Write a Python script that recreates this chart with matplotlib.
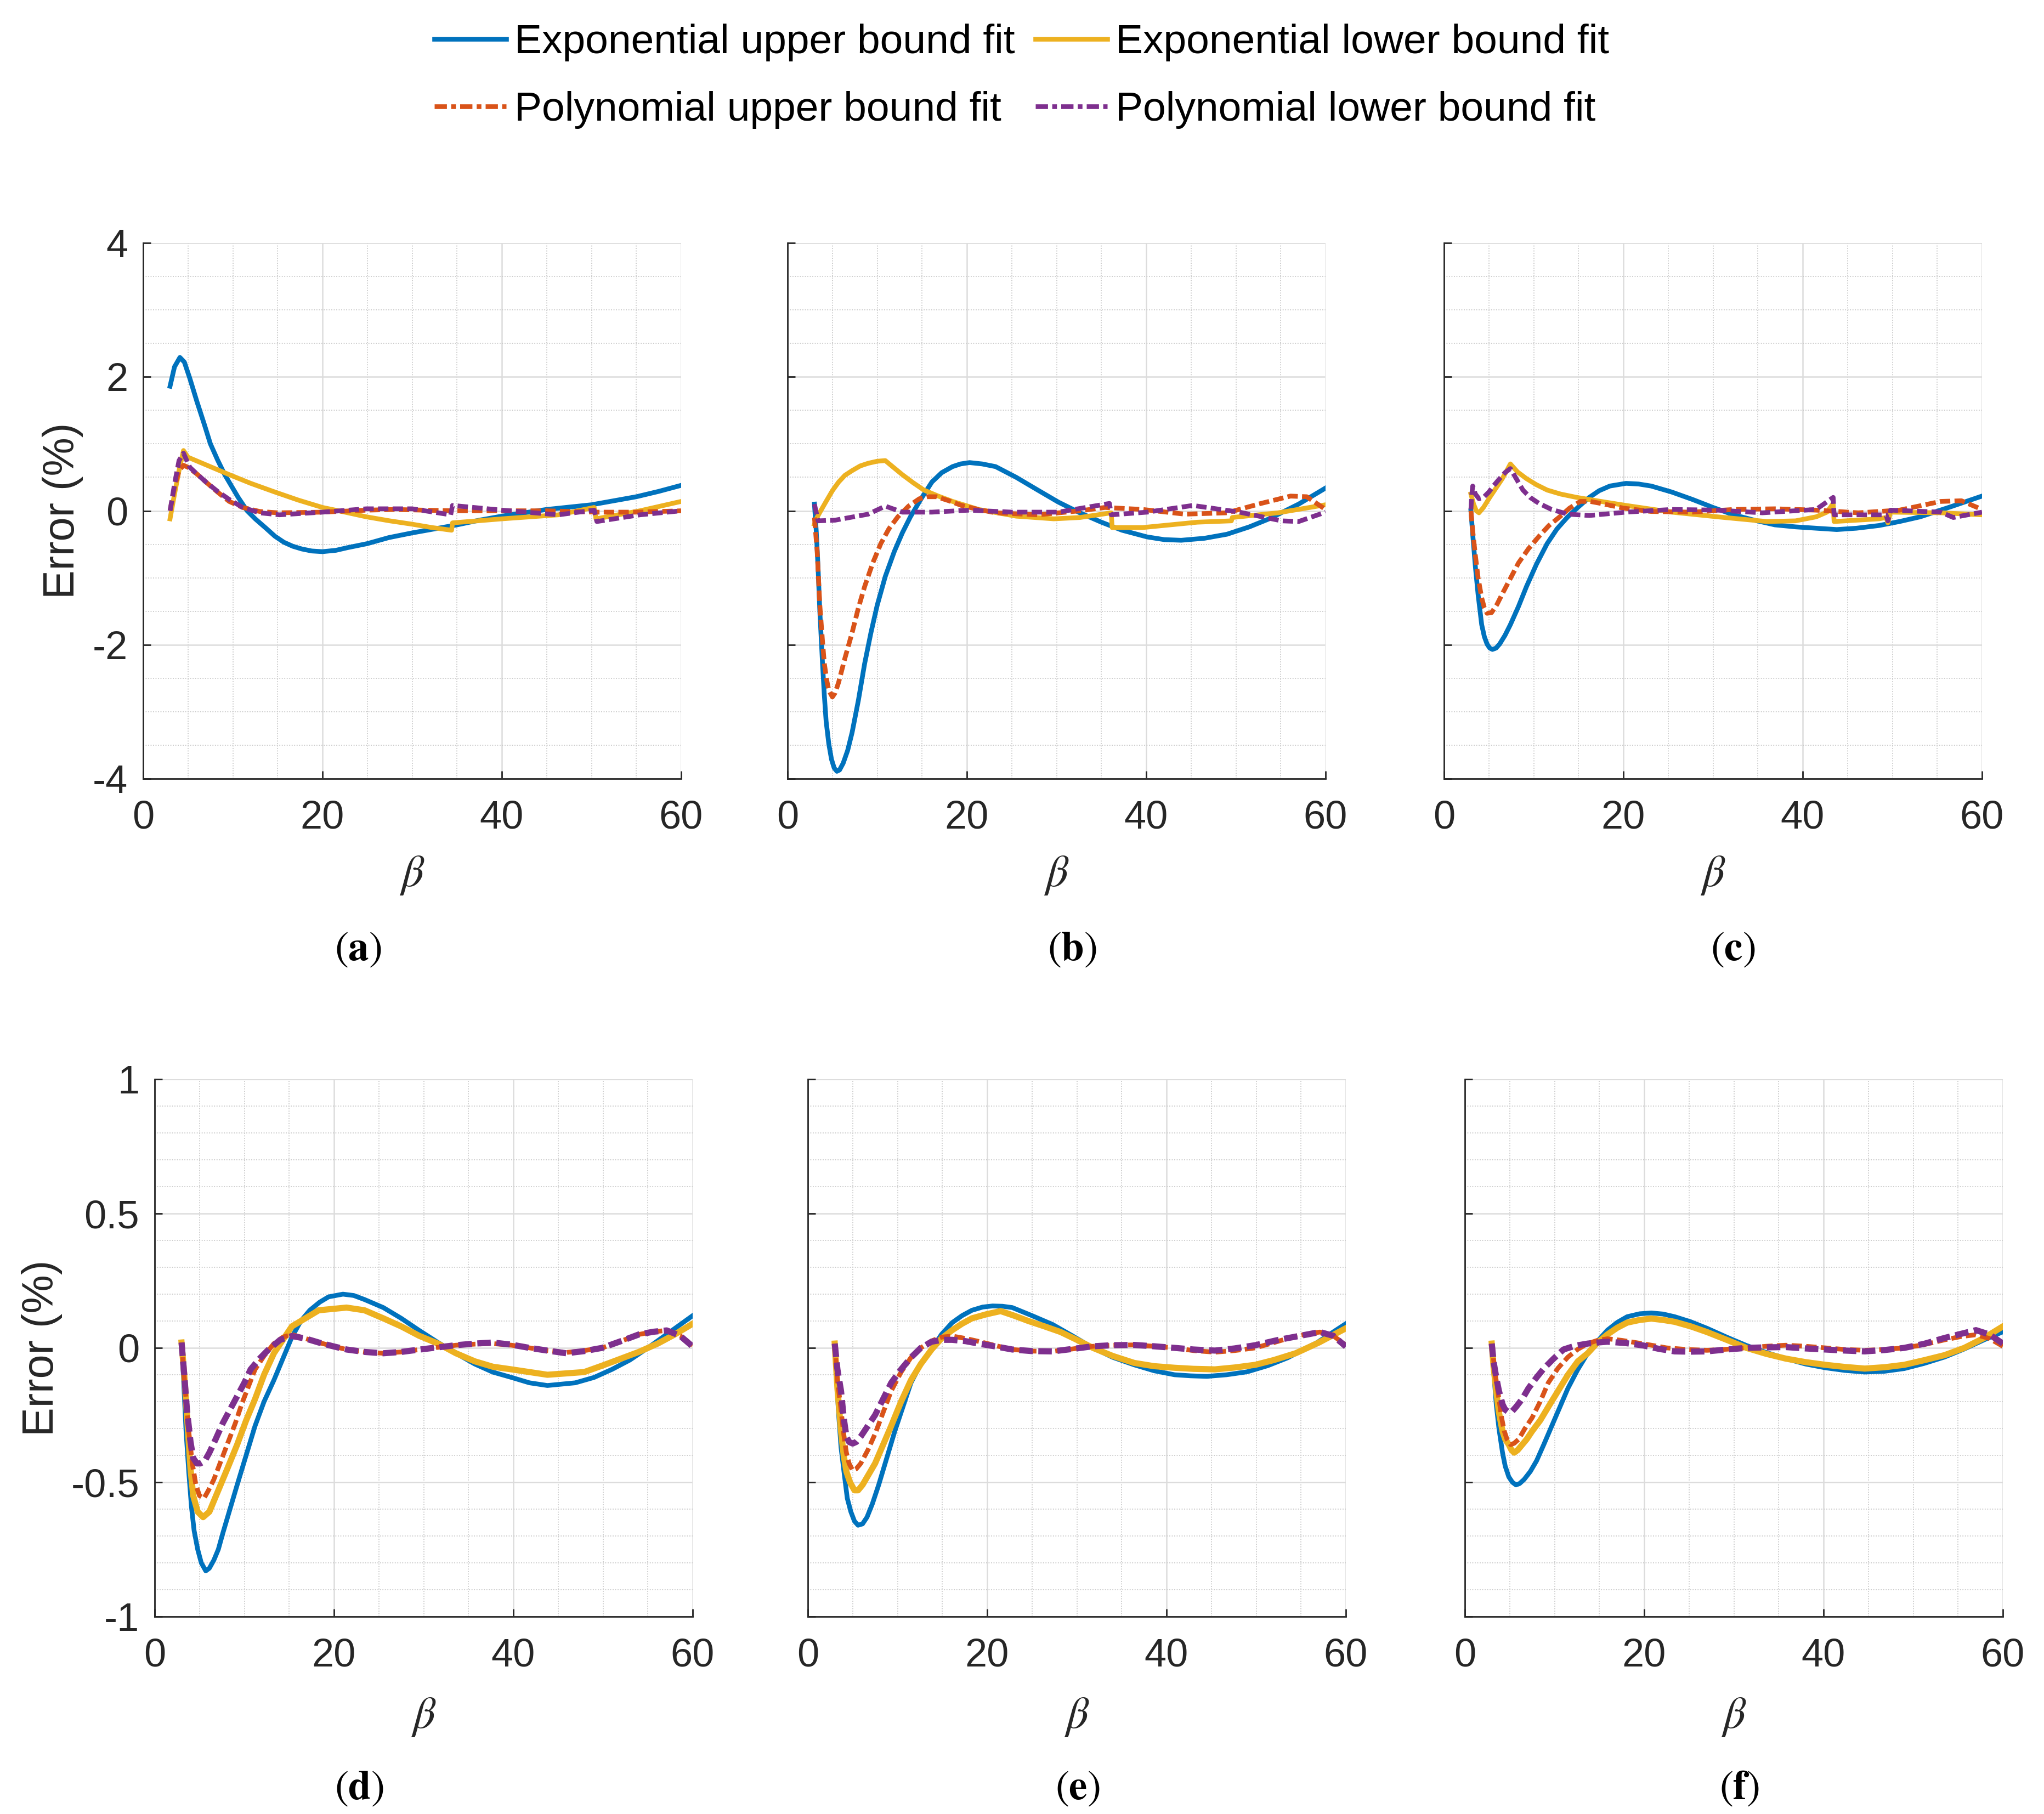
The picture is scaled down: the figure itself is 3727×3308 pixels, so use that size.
import matplotlib
matplotlib.use('Agg')
import matplotlib.pyplot as plt
from matplotlib.ticker import MultipleLocator
from matplotlib.lines import Line2D

plt.rcParams['font.family'] = ['Liberation Sans', 'DejaVu Sans']
plt.rcParams['mathtext.fontset'] = 'stix'
plt.rcParams['axes.unicode_minus'] = False

# ---------------- data ----------------
legend_labels = ['Exponential upper bound fit', 'Exponential lower bound fit',
                 'Polynomial upper bound fit', 'Polynomial lower bound fit']
panel_labels = ['a', 'b', 'c', 'd', 'e', 'f']

# panel (a)
a_eu_x = [3, 3.5, 4.1, 4.6, 5.2, 6.0, 6.8, 7.5, 8.3, 9.1, 10.6, 11.6, 12.5, 13.7, 14.7, 15.7, 16.7, 17.7, 18.8, 20, 21.5, 22.8, 25, 27.4, 30, 32.5, 35, 37.5, 40, 42.5, 45, 47.5, 50, 52.5, 55, 57.5, 60]
a_eu_y = [1.86, 2.15, 2.29, 2.22, 1.98, 1.63, 1.3, 1.0, 0.76, 0.54, 0.2, 0.0, -0.12, -0.26, -0.38, -0.47, -0.53, -0.57, -0.6, -0.61, -0.59, -0.55, -0.49, -0.4, -0.33, -0.27, -0.21, -0.14, -0.08, -0.03, 0.02, 0.055, 0.09, 0.15, 0.21, 0.29, 0.38]
a_el_x = [3, 3.5, 4.0, 4.5, 5.0, 7.3, 9.6, 12, 14.7, 17.3, 20, 22.5, 24.9, 27.5, 30, 32.2, 34.4, 34.5, 40, 46.3, 50.3, 50.5, 55.4, 60]
a_el_y = [-0.12, 0.25, 0.6, 0.9, 0.8, 0.67, 0.54, 0.41, 0.28, 0.16, 0.05, -0.02, -0.09, -0.15, -0.2, -0.25, -0.29, -0.18, -0.12, -0.06, 0.05, -0.12, 0.0, 0.14]
a_pu_x = [3, 3.5, 4.0, 4.5, 5.0, 6.0, 7.0, 8.3, 9.6, 11.1, 13, 15, 20, 25, 28, 34.5, 40, 45, 50.5, 55, 60]
a_pu_y = [0.0, 0.35, 0.6, 0.68, 0.65, 0.55, 0.43, 0.28, 0.14, 0.05, -0.01, -0.03, -0.02, 0.01, 0.02, 0.0, 0.0, 0.0, -0.02, -0.02, 0.0]
a_pl_x = [3, 3.5, 4.0, 4.5, 5.2, 6.0, 7.0, 8.3, 9.6, 11.1, 13, 15.2, 20, 24.9, 30, 34.3, 34.5, 40, 46.3, 50.3, 50.6, 55.4, 60]
a_pl_y = [0.0, 0.4, 0.75, 0.86, 0.65, 0.55, 0.43, 0.29, 0.17, 0.05, -0.03, -0.06, -0.02, 0.03, 0.03, -0.06, 0.08, 0.01, -0.06, 0.01, -0.16, -0.06, 0.0]

# panel (b)
b_eu_x = [3, 3.2, 3.4, 3.6, 3.9, 4.1, 4.3, 4.6, 4.9, 5.2, 5.5, 5.8, 6.2, 6.7, 7.2, 7.9, 8.6, 9.3, 10, 10.9, 11.9, 12.8, 13.7, 14.9, 16.1, 17.2, 18.4, 19.3, 20.3, 21.7, 23.2, 25.5, 27.9, 30.2, 32.6, 35, 37.3, 40.1, 42, 43.9, 46.5, 49, 51.5, 53.7, 57, 60]
b_eu_y = [0.1, -0.3, -0.84, -1.5, -2.28, -2.75, -3.14, -3.48, -3.71, -3.84, -3.89, -3.87, -3.77, -3.58, -3.31, -2.83, -2.28, -1.82, -1.41, -0.98, -0.61, -0.33, -0.09, 0.18, 0.43, 0.57, 0.66, 0.7, 0.72, 0.7, 0.66, 0.5, 0.31, 0.13, -0.03, -0.17, -0.29, -0.39, -0.43, -0.44, -0.41, -0.35, -0.24, -0.12, 0.1, 0.34]
b_el_x = [3, 3.2, 3.7, 4.3, 5.0, 5.7, 6.4, 7.2, 8.1, 9, 10, 10.9, 11.8, 12.8, 14, 15.2, 16.8, 18.4, 21.3, 25.5, 29.7, 32.6, 36.1, 36.2, 39.6, 45.7, 49.5, 49.6, 54.7, 60]
b_el_y = [-0.2, -0.12, 0.0, 0.14, 0.3, 0.43, 0.53, 0.6, 0.67, 0.71, 0.74, 0.75, 0.65, 0.54, 0.42, 0.31, 0.22, 0.14, 0.02, -0.08, -0.12, -0.1, -0.03, -0.25, -0.25, -0.17, -0.15, -0.1, -0.03, 0.09]
b_pu_x = [3, 3.3, 3.6, 3.9, 4.1, 4.4, 4.6, 5.0, 5.3, 5.7, 6.4, 7.2, 7.9, 8.6, 9.5, 10.4, 11.3, 12.3, 13.5, 14.7, 15.6, 16.6, 18, 19.4, 21.3, 23.2, 27.9, 32.6, 35.4, 39.6, 44.3, 49, 52.8, 56.1, 57.9, 60]
b_pu_y = [-0.1, -0.6, -1.41, -1.95, -2.28, -2.55, -2.68, -2.78, -2.72, -2.56, -2.2, -1.82, -1.45, -1.13, -0.78, -0.49, -0.27, -0.09, 0.07, 0.18, 0.21, 0.21, 0.15, 0.08, 0.02, -0.03, -0.06, 0.0, 0.05, 0.02, -0.05, -0.03, 0.11, 0.22, 0.21, 0.02]
b_pl_x = [3, 3.4, 5.3, 9, 10.9, 12.8, 16.1, 20.3, 25, 30.2, 35.9, 36.1, 40.1, 45.2, 50.4, 55.1, 57, 60]
b_pl_y = [0.1, -0.15, -0.14, -0.05, 0.07, -0.02, -0.02, 0.01, -0.02, -0.02, 0.11, -0.06, -0.02, 0.08, -0.02, -0.15, -0.16, -0.02]

# panel (c)
c_eu_x = [3, 3.2, 3.5, 3.8, 4.2, 4.5, 4.8, 5.1, 5.4, 5.8, 6.2, 6.8, 7.4, 8.3, 9.2, 10.3, 11.5, 12.6, 13.8, 15, 16.2, 17.3, 18.5, 20.3, 21.7, 23.1, 25.4, 27.7, 30, 32.3, 34.6, 36.9, 39.2, 41.5, 43.8, 46, 48.5, 50.8, 53.1, 56.5, 60]
c_eu_y = [0.0, -0.35, -0.84, -1.25, -1.7, -1.88, -1.99, -2.05, -2.07, -2.05, -1.99, -1.86, -1.7, -1.43, -1.13, -0.8, -0.49, -0.27, -0.09, 0.06, 0.2, 0.3, 0.37, 0.41, 0.4, 0.37, 0.28, 0.17, 0.05, -0.06, -0.14, -0.21, -0.24, -0.26, -0.28, -0.26, -0.22, -0.16, -0.09, 0.06, 0.22]
c_el_x = [3, 3.3, 3.6, 3.9, 4.4, 5.1, 5.8, 6.5, 7.0, 7.4, 8.2, 9.2, 10.3, 11.5, 13, 14.8, 17.5, 20.3, 25.4, 30.5, 36, 39.2, 41.5, 42.7, 43.4, 43.5, 48.5, 49.3, 49.5, 49.8, 55.4, 60]
c_el_y = [0.25, 0.1, 0.0, -0.03, 0.05, 0.2, 0.34, 0.48, 0.6, 0.7, 0.58, 0.48, 0.39, 0.31, 0.25, 0.2, 0.14, 0.08, -0.02, -0.09, -0.16, -0.15, -0.09, -0.02, 0.11, -0.16, -0.12, -0.1, -0.18, -0.02, -0.03, -0.06]
c_pu_x = [3, 3.2, 3.5, 3.8, 4.2, 4.5, 4.8, 5.3, 5.9, 6.5, 7.4, 8.3, 9.4, 10.6, 11.7, 12.9, 14, 15.2, 16.3, 17.5, 20, 23.1, 27.7, 32.3, 36.9, 41.5, 46.2, 50.8, 55.4, 57.7, 60]
c_pu_y = [0.0, -0.3, -0.67, -1.0, -1.3, -1.45, -1.53, -1.52, -1.4, -1.24, -1.01, -0.78, -0.57, -0.38, -0.22, -0.09, 0.04, 0.14, 0.14, 0.11, 0.04, -0.01, -0.02, 0.02, 0.03, 0.01, -0.03, 0.01, 0.14, 0.15, 0.02]
c_pl_x = [3, 3.1, 3.2, 3.5, 3.9, 4.4, 5.0, 5.5, 6.2, 6.8, 7.4, 8.1, 8.8, 9.6, 10.6, 12, 13.8, 16.2, 20.3, 25.4, 30.5, 35.5, 41.5, 43.4, 43.5, 48.5, 49.3, 49.5, 49.8, 55.4, 56.8, 60]
c_pl_y = [0.02, 0.25, 0.37, 0.25, 0.18, 0.2, 0.28, 0.37, 0.48, 0.57, 0.63, 0.47, 0.31, 0.2, 0.11, 0.02, -0.05, -0.07, -0.02, 0.02, 0.01, -0.03, 0.02, 0.2, -0.06, -0.06, -0.06, -0.15, 0.01, -0.02, -0.1, -0.02]

# panel (d)
d_eu_x = [3, 3.2, 3.5, 3.8, 4.1, 4.4, 4.8, 5.2, 5.7, 6.1, 6.6, 7.1, 7.6, 8.4, 9.2, 10.2, 11.2, 12.2, 13.3, 14.3, 15.3, 16.3, 17.3, 18.4, 19.4, 21, 22.2, 23.4, 25.5, 27.5, 29.5, 31.6, 33.6, 35.7, 37.7, 39.8, 41.8, 43.8, 46.9, 49, 51, 53, 55, 57.5, 60]
d_eu_y = [0.02, -0.1, -0.31, -0.46, -0.59, -0.68, -0.75, -0.8, -0.83, -0.82, -0.79, -0.75, -0.69, -0.6, -0.51, -0.4, -0.29, -0.2, -0.12, -0.04, 0.04, 0.1, 0.14, 0.17, 0.19, 0.2, 0.195, 0.18, 0.15, 0.11, 0.065, 0.02, -0.02, -0.06, -0.09, -0.11, -0.13, -0.14, -0.13, -0.11, -0.08, -0.045, 0.0, 0.06, 0.12]
d_el_x = [3, 3.3, 3.6, 4.0, 4.3, 4.8, 5.4, 6.1, 7.1, 8.1, 9.2, 10.2, 11.2, 12.2, 13.3, 14.3, 15.3, 16.8, 18.3, 21.4, 23.4, 25.5, 27.5, 29.5, 31.6, 33.6, 35.7, 37.7, 39.8, 43.8, 47.9, 50, 52, 54, 56.1, 58, 60]
d_el_y = [0.02, -0.1, -0.25, -0.45, -0.55, -0.61, -0.63, -0.61, -0.53, -0.45, -0.36, -0.27, -0.19, -0.1, -0.02, 0.03, 0.08, 0.11, 0.14, 0.15, 0.14, 0.11, 0.08, 0.045, 0.016, -0.02, -0.05, -0.07, -0.08, -0.1, -0.09, -0.065, -0.04, -0.015, 0.016, 0.05, 0.09]
d_pu_x = [3, 3.4, 3.8, 4.2, 4.6, 5.0, 5.5, 6.0, 6.6, 7.4, 8.2, 9.0, 9.7, 10.5, 11.2, 12.2, 13.3, 14.3, 15.3, 16.8, 18.3, 19.9, 21.4, 23.4, 25.5, 27.5, 29.6, 31.6, 33.6, 35.7, 37.7, 39.8, 41.8, 43.8, 45.9, 47.9, 49.9, 52, 54, 55.6, 57.1, 58.6, 60]
d_pu_y = [0.02, -0.15, -0.31, -0.43, -0.51, -0.55, -0.56, -0.53, -0.49, -0.42, -0.35, -0.28, -0.21, -0.14, -0.08, -0.03, 0.016, 0.04, 0.05, 0.035, 0.02, 0.006, -0.006, -0.015, -0.02, -0.015, -0.006, 0.002, 0.01, 0.014, 0.016, 0.01, 0.0, -0.01, -0.017, -0.01, 0.0, 0.025, 0.05, 0.06, 0.065, 0.045, 0.01]
d_pl_x = [3, 3.3, 3.6, 4.0, 4.3, 4.7, 5.1, 5.6, 6.1, 6.8, 7.6, 8.4, 9.2, 10, 10.7, 11.7, 12.7, 14, 15.3, 16.8, 18.3, 19.9, 21.4, 23.4, 25.5, 27.5, 29.6, 31.6, 33.6, 35.7, 37.7, 39.8, 41.8, 43.8, 45.9, 47.9, 49.9, 52, 54, 55.6, 57.1, 58.6, 60]
d_pl_y = [0.02, -0.1, -0.23, -0.35, -0.41, -0.43, -0.43, -0.42, -0.39, -0.34, -0.28, -0.23, -0.18, -0.13, -0.08, -0.04, -0.006, 0.03, 0.044, 0.035, 0.02, 0.006, -0.006, -0.015, -0.02, -0.015, -0.006, 0.002, 0.01, 0.016, 0.02, 0.012, 0.0, -0.01, -0.02, -0.012, 0.0, 0.025, 0.05, 0.06, 0.065, 0.045, 0.005]

# panel (e)
e_eu_x = [3, 3.2, 3.4, 3.7, 4.1, 4.4, 4.8, 5.2, 5.6, 6.1, 6.6, 7.2, 7.9, 8.8, 9.7, 10.6, 11.5, 12.6, 13.8, 14.9, 16.1, 17.2, 18.3, 19.5, 20.6, 21.7, 22.8, 25, 27.3, 29.5, 31.8, 34, 36.4, 38.6, 40.9, 42.7, 44.5, 46.7, 49, 51.3, 53.5, 56.8, 60]
e_eu_y = [0.016, -0.1, -0.23, -0.37, -0.48, -0.56, -0.61, -0.645, -0.66, -0.655, -0.63, -0.58, -0.51, -0.41, -0.31, -0.22, -0.13, -0.06, -0.006, 0.05, 0.094, 0.12, 0.14, 0.152, 0.156, 0.155, 0.15, 0.12, 0.087, 0.045, 0.0, -0.035, -0.063, -0.085, -0.1, -0.104, -0.106, -0.1, -0.089, -0.066, -0.037, 0.02, 0.09]
e_el_x = [3, 3.3, 3.7, 4.0, 4.3, 4.7, 5.2, 5.6, 6.1, 6.8, 7.5, 8.4, 9.3, 10.4, 11.5, 12.6, 13.8, 14.9, 16.1, 17.2, 18.3, 19.9, 21.5, 23, 24.6, 26.4, 28.2, 30, 31.8, 34, 36.4, 38.6, 40.9, 43, 45.4, 47.6, 49.9, 52, 54.4, 57, 60]
e_el_y = [0.016, -0.15, -0.31, -0.4, -0.46, -0.5, -0.53, -0.53, -0.51, -0.47, -0.43, -0.36, -0.29, -0.2, -0.12, -0.06, -0.006, 0.035, 0.066, 0.09, 0.11, 0.125, 0.137, 0.12, 0.1, 0.08, 0.059, 0.03, 0.0, -0.03, -0.056, -0.068, -0.074, -0.078, -0.08, -0.073, -0.063, -0.045, -0.02, 0.02, 0.073]
e_pu_x = [3, 3.3, 3.7, 4.0, 4.3, 4.6, 5.0, 5.4, 5.9, 6.7, 7.5, 8.4, 9.3, 10.4, 11.5, 12.6, 13.8, 14.9, 16.1, 17.6, 19.2, 21, 22.8, 25, 27.3, 29.5, 31.8, 34, 36.4, 38.6, 40.9, 43, 45.4, 47.6, 49.9, 52, 54.4, 57.1, 58.6, 60]
e_pu_y = [0.016, -0.12, -0.23, -0.32, -0.39, -0.43, -0.456, -0.45, -0.43, -0.38, -0.32, -0.24, -0.16, -0.09, -0.036, 0.0, 0.026, 0.04, 0.044, 0.035, 0.023, 0.008, -0.006, -0.012, -0.013, -0.004, 0.006, 0.01, 0.011, 0.006, 0.0, -0.01, -0.016, -0.01, 0.0, 0.02, 0.044, 0.059, 0.045, 0.01]
e_pl_x = [3, 3.3, 3.7, 4.0, 4.3, 4.6, 5.0, 5.4, 5.9, 6.7, 7.5, 8.4, 9.3, 10.4, 11.5, 12.6, 13.8, 15, 16.1, 17.6, 19.2, 21, 22.8, 25, 27.3, 29.5, 31.8, 34, 36.4, 38.6, 40.9, 43, 45.4, 47.6, 49.9, 52.5, 55.7, 57.1, 58.6, 60]
e_pl_y = [0.016, -0.08, -0.16, -0.26, -0.33, -0.35, -0.356, -0.35, -0.33, -0.29, -0.25, -0.19, -0.13, -0.08, -0.036, 0.0, 0.023, 0.03, 0.03, 0.025, 0.015, 0.005, -0.006, -0.012, -0.013, -0.004, 0.006, 0.01, 0.011, 0.006, 0.0, -0.006, -0.01, -0.002, 0.01, 0.03, 0.05, 0.059, 0.045, 0.005]

# panel (f)
f_eu_x = [3, 3.2, 3.5, 3.8, 4.2, 4.5, 4.9, 5.3, 5.7, 6.1, 6.6, 7.3, 8, 8.8, 9.7, 10.6, 11.5, 12.6, 13.7, 14.8, 15.9, 17, 18.1, 19.5, 20.8, 22.1, 23.4, 25.2, 27, 29.2, 31.4, 33.6, 35.8, 38, 40.2, 42.4, 44.6, 46.8, 49, 51.2, 53.5, 55.7, 57.9, 60]
f_eu_y = [0.016, -0.08, -0.21, -0.3, -0.39, -0.44, -0.48, -0.5, -0.51, -0.505, -0.49, -0.46, -0.42, -0.36, -0.29, -0.22, -0.15, -0.08, -0.02, 0.025, 0.066, 0.095, 0.116, 0.127, 0.13, 0.126, 0.116, 0.097, 0.073, 0.04, 0.009, -0.017, -0.04, -0.06, -0.074, -0.084, -0.09, -0.087, -0.077, -0.058, -0.034, -0.004, 0.03, 0.06]
f_el_x = [3, 3.2, 3.5, 3.8, 4.2, 4.5, 4.9, 5.2, 5.5, 5.9, 6.4, 6.9, 7.5, 8.4, 9.3, 10.4, 11.5, 12.6, 13.7, 14.8, 15.9, 17, 18.1, 19.5, 20.8, 22.1, 23.4, 25.2, 27, 29.2, 31.4, 33.6, 35.8, 38, 40.2, 42.4, 44.6, 46.8, 49, 51.2, 53.5, 55.7, 57.9, 60]
f_el_y = [0.016, -0.07, -0.16, -0.24, -0.31, -0.34, -0.36, -0.38, -0.39, -0.38, -0.36, -0.34, -0.31, -0.27, -0.22, -0.16, -0.1, -0.05, -0.02, 0.02, 0.05, 0.075, 0.094, 0.104, 0.109, 0.104, 0.097, 0.08, 0.059, 0.03, 0.0, -0.022, -0.04, -0.053, -0.063, -0.071, -0.077, -0.072, -0.063, -0.046, -0.027, 0.0, 0.037, 0.08]
f_pu_x = [3, 3.4, 3.8, 4.1, 4.4, 4.7, 5.1, 5.5, 6, 6.7, 7.5, 8.4, 9.3, 10.4, 11.5, 12.6, 13.7, 14.8, 15.9, 17.5, 19, 20.8, 22.5, 24.8, 27, 29.2, 31.4, 33.6, 35.8, 38, 40.2, 42.4, 44.6, 46.8, 49, 51.2, 53.5, 55.3, 57, 58.5, 60]
f_pu_y = [0.016, -0.1, -0.19, -0.26, -0.31, -0.34, -0.36, -0.355, -0.34, -0.3, -0.26, -0.2, -0.13, -0.075, -0.034, -0.005, 0.016, 0.028, 0.034, 0.028, 0.02, 0.01, 0.0, -0.006, -0.009, -0.005, 0.0, 0.006, 0.01, 0.006, 0.0, -0.006, -0.009, -0.006, 0.0, 0.012, 0.03, 0.042, 0.049, 0.035, 0.006]
f_pl_x = [3, 3.2, 3.5, 3.8, 4.2, 4.5, 4.9, 5.3, 5.7, 6.4, 7.1, 8, 8.8, 9.9, 11, 12.3, 13.7, 14.8, 15.9, 17.9, 19.9, 21.7, 23.4, 25.2, 27, 29.2, 31.4, 33.6, 35.8, 38, 40.2, 42.4, 44.6, 46.8, 49, 51.2, 53.5, 55.3, 57, 58.5, 60]
f_pl_y = [0.016, -0.05, -0.11, -0.16, -0.21, -0.23, -0.24, -0.235, -0.22, -0.19, -0.15, -0.11, -0.077, -0.04, -0.006, 0.008, 0.016, 0.02, 0.023, 0.018, 0.009, -0.004, -0.013, -0.014, -0.013, -0.006, 0.0, 0.002, 0.003, -0.002, -0.006, -0.01, -0.013, -0.008, 0.0, 0.015, 0.037, 0.052, 0.066, 0.05, 0.016]

x_ticks = [0, 20, 40, 60]
top_yticks = [-4, -2, 0, 2, 4]
bottom_yticks = [-1, -0.5, 0, 0.5, 1]
top_yticklabels = ['-4', '-2', '0', '2', '4']
bottom_yticklabels = ['-1', '-0.5', '0', '0.5', '1']

# ---------------- style ----------------
BLUE, ORANGE, YELLOW, PURPLE = '#0072BD', '#D95319', '#EDB120', '#7E2F8E'
TXT = '#262626'
W, H = 3727, 3308
fig = plt.figure(figsize=(W / 100, H / 100), dpi=100)

# axes boxes in pixels: left, top, right, bottom
boxes = [(261, 443, 1242, 1420), (1436, 443, 2417, 1420), (2633, 443, 3614, 1420),
         (282, 1968, 1263, 2948), (1473, 1968, 2454, 2948), (2671, 1968, 3652, 2948)]
series = [
    [(a_eu_x, a_eu_y), (a_el_x, a_el_y), (a_pu_x, a_pu_y), (a_pl_x, a_pl_y)],
    [(b_eu_x, b_eu_y), (b_el_x, b_el_y), (b_pu_x, b_pu_y), (b_pl_x, b_pl_y)],
    [(c_eu_x, c_eu_y), (c_el_x, c_el_y), (c_pu_x, c_pu_y), (c_pl_x, c_pl_y)],
    [(d_eu_x, d_eu_y), (d_el_x, d_el_y), (d_pu_x, d_pu_y), (d_pl_x, d_pl_y)],
    [(e_eu_x, e_eu_y), (e_el_x, e_el_y), (e_pu_x, e_pu_y), (e_pl_x, e_pl_y)],
    [(f_eu_x, f_eu_y), (f_el_x, f_el_y), (f_pu_x, f_pu_y), (f_pl_x, f_pl_y)],
]
colors = [BLUE, YELLOW, ORANGE, PURPLE]
LW = 6.2
DASH = (2.2, 0.9)
LEG_DASH = (2.6, 0.9, 1.0, 0.9)

label_pos = [(653, 1731), (1955, 1731), (3160, 1731), (655, 3261), (1965, 3261), (3172, 3261)]

for i, (box, ser) in enumerate(zip(boxes, series)):
    l, t, r, b = box
    ax = fig.add_axes([l / W, 1 - b / H, (r - l) / W, (b - t) / H])
    top = i < 3
    for j, ((xs, ys), col) in enumerate(zip(ser, colors)):
        lw = LW
        if not top and j in (1, 3):
            lw = LW * 1.3
        if j >= 2:
            ax.plot(xs, ys, color=col, lw=lw, dashes=DASH, solid_joinstyle='round',
                    dash_joinstyle='round', dash_capstyle='butt', zorder=3 + j)
        else:
            ax.plot(xs, ys, color=col, lw=lw, solid_joinstyle='round', zorder=3 + j)
    ax.set_xlim(0, 60)
    ax.set_xticks(x_ticks)
    ax.set_xticklabels([str(v) for v in x_ticks])
    ax.xaxis.set_minor_locator(MultipleLocator(5))
    if top:
        ax.set_ylim(-4, 4)
        ax.set_yticks(top_yticks)
        ax.yaxis.set_minor_locator(MultipleLocator(0.5))
        ylabels = top_yticklabels
    else:
        ax.set_ylim(-1, 1)
        ax.set_yticks(bottom_yticks)
        ax.yaxis.set_minor_locator(MultipleLocator(0.1))
        ylabels = bottom_yticklabels
    if i in (0, 3):
        ax.set_yticklabels(ylabels)
    else:
        ax.set_yticklabels([])
    ax.grid(True, which='major', color='#dcdcdc', lw=1.8, ls='-', zorder=0)
    ax.grid(True, which='minor', color='#c8c8c8', lw=1.3, ls=(0, (1, 1.5)), zorder=0)
    ax.set_axisbelow(True)
    for s in ('top', 'right'):
        ax.spines[s].set_visible(False)
    for s in ('left', 'bottom'):
        ax.spines[s].set_color(TXT)
        ax.spines[s].set_linewidth(2.0)
    ax.tick_params(which='major', direction='in', length=10, width=2.0, color=TXT,
                   labelsize=52, labelcolor=TXT)
    ax.tick_params(axis='x', which='major', pad=28)
    ax.tick_params(axis='y', which='major', pad=20)
    ax.tick_params(which='minor', length=0)
    cx = (l + r) / 2
    fig.text(cx / W, 1 - (1597 if top else 3131) / H, r'$\beta$', fontsize=58,
             ha='center', va='center', color=TXT)
    px, py = label_pos[i]
    fig.text(px / W, 1 - py / H, r'$(\mathbf{' + panel_labels[i] + r'})$', fontsize=54,
             ha='center', va='center', color='black')

fig.text(115 / W, 1 - 931 / H, 'Error (%)', rotation=90, fontsize=57, ha='center', va='center', color=TXT)
fig.text(77 / W, 1 - 2458 / H, 'Error (%)', rotation=90, fontsize=57, ha='center', va='center', color=TXT)

handles = [Line2D([], [], color=BLUE, lw=LW),
           Line2D([], [], color=ORANGE, lw=LW, dashes=LEG_DASH, dash_capstyle='butt'),
           Line2D([], [], color=YELLOW, lw=LW),
           Line2D([], [], color=PURPLE, lw=LW, dashes=LEG_DASH, dash_capstyle='butt')]
labels = [legend_labels[0], legend_labels[2], legend_labels[1], legend_labels[3]]
fig.legend(handles, labels, ncol=2, loc='center', bbox_to_anchor=(1863 / W, 1 - 139 / H),
           frameon=False, fontsize=54, handlelength=1.75, handletextpad=0.2,
           columnspacing=0.5, labelspacing=0.72, borderpad=0.0)

fig.savefig('out.png', dpi=100)
